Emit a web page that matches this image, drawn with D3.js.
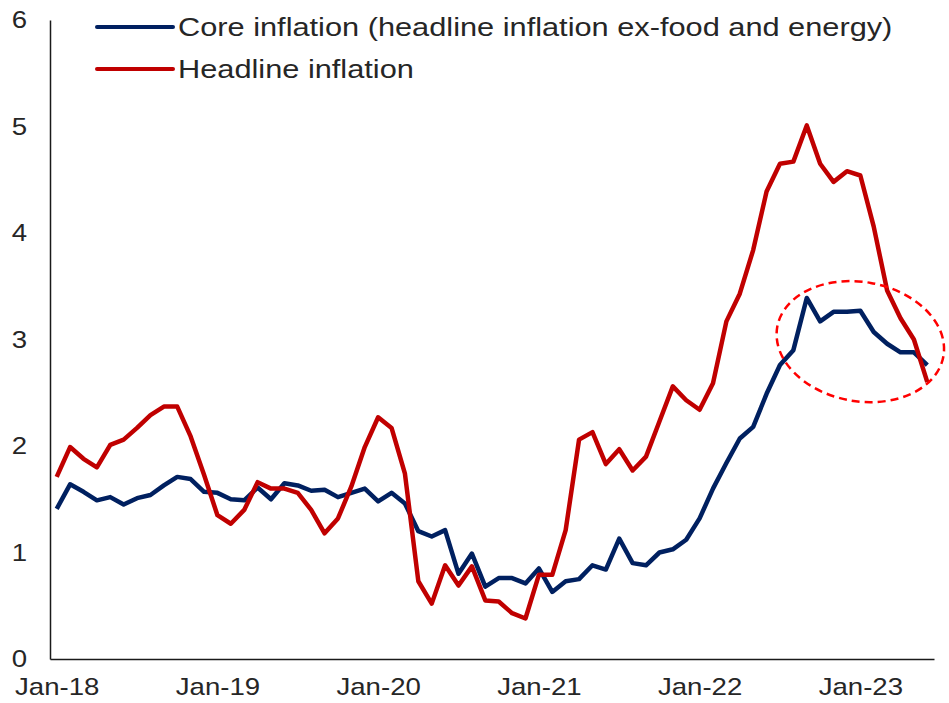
<!DOCTYPE html>
<html>
<head>
<meta charset="utf-8">
<script src="https://cdn.jsdelivr.net/npm/d3@7"></script>
<style>
  body { margin: 0; background: #fff; }
  svg text { font-family: "Liberation Sans", Arial, sans-serif; fill: #262626; }
</style>
</head>
<body>
<svg id="chart" width="949" height="703"></svg>
<script>
// monthly, Jan-18 .. Jun-23
var monthNames = ["Jan","Feb","Mar","Apr","May","Jun","Jul","Aug","Sep","Oct","Nov","Dec"];
var months = [];
for (var yr = 18; yr <= 23; yr++) {
  for (var m = 0; m < 12; m++) {
    if (yr == 23 && m > 5) break;
    months.push(monthNames[m] + "-" + yr);
  }
}

var core = [
  1.41, 1.64, 1.57, 1.49, 1.52, 1.45, 1.51, 1.54, 1.63, 1.71, 1.69, 1.57,
  1.56, 1.50, 1.49, 1.61, 1.50, 1.65, 1.63, 1.58, 1.59, 1.52, 1.56, 1.60,
  1.48, 1.56, 1.46, 1.20, 1.15, 1.21, 0.80, 0.99, 0.68, 0.76, 0.76, 0.71,
  0.85, 0.63, 0.73, 0.75, 0.88, 0.84, 1.13, 0.90, 0.88, 1.00, 1.03, 1.12,
  1.32, 1.60, 1.84, 2.07, 2.18, 2.49, 2.76, 2.90, 3.39, 3.17, 3.26, 3.26,
  3.27, 3.07, 2.96, 2.88, 2.88, 2.76
];

var headline = [
  1.71, 1.99, 1.88, 1.80, 2.01, 2.06, 2.17, 2.29, 2.37, 2.37, 2.09, 1.73,
  1.35, 1.27, 1.40, 1.66, 1.60, 1.60, 1.56, 1.40, 1.18, 1.32, 1.62, 1.99,
  2.27, 2.17, 1.74, 0.73, 0.52, 0.88, 0.69, 0.87, 0.55, 0.54, 0.43, 0.38,
  0.79, 0.79, 1.21, 2.06, 2.13, 1.83, 1.97, 1.77, 1.90, 2.23, 2.56, 2.43,
  2.34, 2.59, 3.17, 3.43, 3.84, 4.39, 4.65, 4.67, 5.01, 4.65, 4.48, 4.58,
  4.54, 4.06, 3.46, 3.20, 3.00, 2.60
];

var xTickLabels = ["Jan-18", "Jan-19", "Jan-20", "Jan-21", "Jan-22", "Jan-23"];
var yTicks = [0, 1, 2, 3, 4, 5, 6];

var seriesNames = ["Core inflation (headline inflation ex-food and energy)", "Headline inflation"];
var seriesColors = ["#002060", "#c00000"];

// highlighted area: centred on Jan-23, about 3%
var highlight = { month: "Jan-23", value: 2.98, halfMonths: 6.3, halfValue: 0.56, angle: 10 };

var svg = d3.select("#chart");
var margin = { left: 50, top: 20, right: 15, bottom: 44 };
var width = 949 - margin.left - margin.right;
var height = 703 - margin.top - margin.bottom;

var x = d3.scalePoint().domain(months).range([0, width]).padding(0.5);
var y = d3.scaleLinear().domain([0, 6]).range([height, 0]);

var g = svg.append("g").attr("transform", "translate(" + margin.left + "," + margin.top + ")");

// the source picture is stretched sideways a little, so text gets a wider scale
var stretch = "scale(1.15,1)";

var yAxis = g.append("g").call(d3.axisLeft(y).tickValues(yTicks).tickFormat(d3.format("d")).tickSize(0).tickPadding(20));
yAxis.select(".domain").attr("stroke", "#1a1a1a").attr("stroke-width", 1.5);
yAxis.selectAll("text").style("font-size", "24px").attr("fill", "#262626").attr("transform", stretch);

var xAxis = g.append("g").attr("transform", "translate(0," + height + ")")
  .call(d3.axisBottom(x).tickValues(xTickLabels).tickSize(0).tickPadding(19));
xAxis.select(".domain").attr("stroke", "#1a1a1a").attr("stroke-width", 1.5);
xAxis.selectAll("text").style("font-size", "24px").attr("fill", "#262626").attr("transform", stretch);

var line = d3.line()
  .x(function(d, i) { return x(months[i]); })
  .y(function(d) { return y(d); });

[core, headline].forEach(function(s, k) {
  g.append("path")
    .datum(s)
    .attr("fill", "none")
    .attr("stroke", seriesColors[k])
    .attr("stroke-width", 4.5)
    .attr("stroke-linejoin", "round")
    .attr("d", line);
});

// dashed ellipse annotation
var cx = x(highlight.month), cy = y(highlight.value);
g.append("ellipse")
  .attr("cx", cx)
  .attr("cy", cy)
  .attr("rx", x.step() * highlight.halfMonths)
  .attr("ry", y(0) - y(highlight.halfValue))
  .attr("transform", "rotate(" + highlight.angle + "," + cx + "," + cy + ")")
  .attr("fill", "none")
  .attr("stroke", "#ff0000")
  .attr("stroke-width", 2.5)
  .attr("stroke-dasharray", "8,5");

// legend
var legend = svg.append("g").attr("transform", "translate(97,27)");
seriesNames.forEach(function(name, k) {
  var row = legend.append("g").attr("transform", "translate(0," + (k * 42) + ")");
  row.append("line").attr("x1", 0).attr("x2", 76)
    .attr("stroke", seriesColors[k]).attr("stroke-width", 4).attr("stroke-linecap", "round");
  row.append("text").attr("transform", "translate(81,0) scale(1.23,1)").attr("dy", "0.35em")
    .style("font-size", "25px").text(name);
});
</script>
</body>
</html>
